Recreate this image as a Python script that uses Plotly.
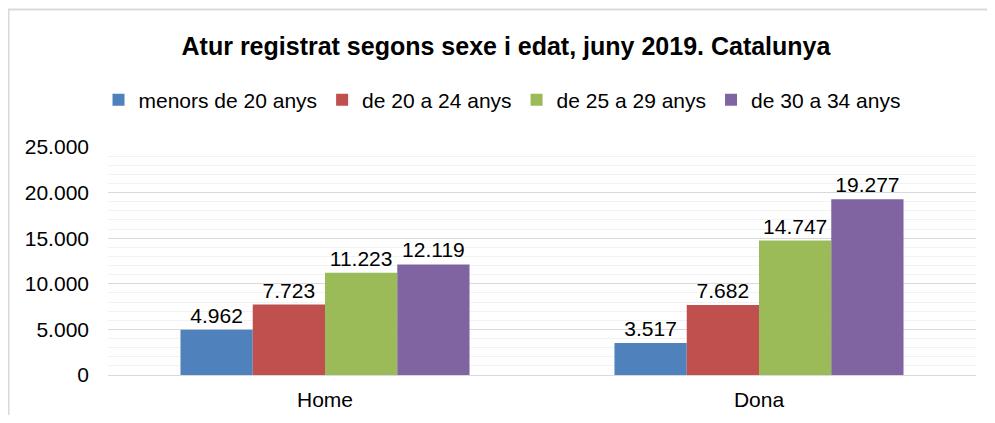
import plotly.graph_objects as go

# Dades: atur registrat per sexe i grup d'edat (juny 2019, Catalunya)
sexes = ["Home", "Dona"]
grups = ["menors de 20 anys", "de 20 a 24 anys", "de 25 a 29 anys", "de 30 a 34 anys"]
menors_20 = [4962, 3517]
de_20_24 = [7723, 7682]
de_25_29 = [11223, 14747]
de_30_34 = [12119, 19277]

colors = ["#4F81BD", "#C0504D", "#9BBB59", "#8064A2"]
font_family = "Liberation Sans, Arial, sans-serif"

# La pàgina té un marge de 8 px al body: la figura es fa més petita
OFF = 8
W, H = 995 - 2 * OFF, 423 - 2 * OFF
L, R, T, B = 108 - OFF, 995 - 976 - OFF, 147 - OFF, 423 - 375 - OFF
pw, ph = W - L - R, H - T - B

fig = go.Figure()
for nom, vals, col in zip(grups, [menors_20, de_20_24, de_25_29, de_30_34], colors):
    fig.add_trace(go.Bar(
        x=sexes, y=vals, name=nom,
        marker=dict(color=col, line=dict(width=0)),
        text=vals, texttemplate="%{y:,.0f}", textposition="outside",
        textfont=dict(size=21, color="#000000"),
        constraintext="none", cliponaxis=False,
    ))

# Marc gris al voltant del gràfic
fig.add_shape(
    type="rect", xref="paper", yref="paper",
    x0=(0.5 - L) / pw, x1=(W + 10 - L) / pw,
    y0=(H - B - H - 10) / ph, y1=(H - B - 1.5) / ph,
    line=dict(color="#D9D9D9", width=2), fillcolor="rgba(0,0,0,0)", layer="below",
)

fig.update_layout(
    width=W, height=H,
    margin=dict(l=L, r=R, t=T, b=B, pad=0, autoexpand=False),
    paper_bgcolor="white", plot_bgcolor="white",
    separators=",.",
    font=dict(family=font_family, size=21, color="#000000"),
    title=dict(
        text="<b>Atur registrat segons sexe i edat, juny 2019. Catalunya</b>",
        x=(506 - OFF - L) / pw, xref="paper", xanchor="center",
        y=1 - (46 - OFF) / H, yref="container", yanchor="middle",
        font=dict(size=25, family=font_family, color="#000000"),
    ),
    barmode="group", bargap=0.334, bargroupgap=0,
    legend=dict(
        orientation="h", x=(502 - OFF - L) / pw, xanchor="center",
        y=1 - (100 - OFF) / H, yref="container", yanchor="middle",
        font=dict(size=21), itemwidth=30, traceorder="normal",
        bgcolor="rgba(0,0,0,0)",
    ),
    showlegend=True,
)

fig.update_xaxes(
    showgrid=False, showline=True, linecolor="#D9D9D9", linewidth=1,
    ticks="", ticklabelstandoff=6, tickfont=dict(size=21),
)
fig.update_yaxes(
    range=[0, 25000], dtick=5000, tickformat=",.0f",
    showgrid=True, gridcolor="#D9D9D9", gridwidth=1,
    minor=dict(dtick=1000, showgrid=True, gridcolor="#F2F2F2", gridwidth=1),
    zeroline=False, showline=False, ticks="",
    ticklabelstandoff=18, tickfont=dict(size=21),
)

fig.write_html("out.html")
